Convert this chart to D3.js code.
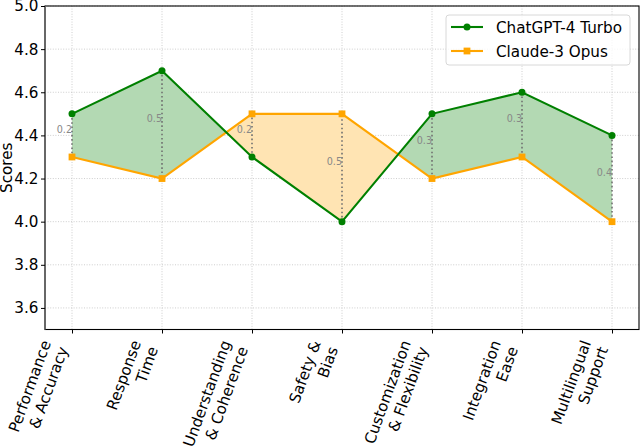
<!DOCTYPE html>
<html lang="en">
<head>
<meta charset="UTF-8"/>
<title>ChatGPT-4 Turbo vs Claude-3 Opus</title>
<script src="https://d3js.org/d3.v7.min.js"></script>
<style>
  body { margin: 0; background: #fff; }
  svg { display: block; font-family: "DejaVu Sans", sans-serif; }
</style>
</head>
<body>
<script>

var w = 640;
var h = 447;

// data
var categories = ["Performance\n& Accuracy", "Response\nTime", "Understanding\n& Coherence",
                  "Safety &\nBias", "Customization\n& Flexibility", "Integration\nEase",
                  "Multilingual\nSupport"];
var gptScores    = [4.5, 4.7, 4.3, 4.0, 4.5, 4.6, 4.4];
var claudeScores = [4.3, 4.2, 4.5, 4.5, 4.2, 4.3, 4.0];
var seriesNames  = ["ChatGPT-4 Turbo", "Claude-3 Opus"];
var yTicks       = [3.6, 3.8, 4.0, 4.2, 4.4, 4.6, 4.8, 5.0];

var fontSize = "15.2px";

// plot box (note: "top" is a reserved window property, so prefixed names)
var plotLeft = 45, plotRight = 639, plotTop = 6, plotBottom = 329.5;

var xScale = d3.scaleLinear()
               .domain([-0.3, categories.length - 1 + 0.3])
               .range([plotLeft, plotRight]);

var yScale = d3.scaleLinear()
               .domain([3.5, 5.0])
               .range([plotBottom, plotTop]);

var svg = d3.select("body")
            .append("svg")
            .attr("width", w)
            .attr("height", h);

// grid
var grid = svg.append("g");
grid.selectAll(".gy")
    .data(yTicks)
    .enter()
    .append("line")
    .attr("x1", plotLeft).attr("x2", plotRight)
    .attr("y1", function(d){ return yScale(d); })
    .attr("y2", function(d){ return yScale(d); })
    .attr("stroke", "#c8c8c8")
    .attr("stroke-width", 0.9)
    .attr("stroke-dasharray", "1,1.6");
grid.selectAll(".gx")
    .data(categories)
    .enter()
    .append("line")
    .attr("x1", function(d, i){ return xScale(i); })
    .attr("x2", function(d, i){ return xScale(i); })
    .attr("y1", plotTop).attr("y2", plotBottom)
    .attr("stroke", "#c8c8c8")
    .attr("stroke-width", 0.9)
    .attr("stroke-dasharray", "1,1.6");

// fill between: add crossing points so max() is piecewise linear
var pts = [];
for (var i = 0; i < categories.length; i++) {
    pts.push({x: i, g: gptScores[i], c: claudeScores[i]});
    if (i < categories.length - 1) {
        var d0 = gptScores[i] - claudeScores[i];
        var d1 = gptScores[i + 1] - claudeScores[i + 1];
        if (d0 * d1 < 0) {
            var t = d0 / (d0 - d1);
            var yc = gptScores[i] + t * (gptScores[i + 1] - gptScores[i]);
            pts.push({x: i + t, g: yc, c: yc});
        }
    }
}

var greenArea = d3.area()
    .x(function(d){ return xScale(d.x); })
    .y0(function(d){ return yScale(d.c); })
    .y1(function(d){ return yScale(Math.max(d.g, d.c)); });

var orangeArea = d3.area()
    .x(function(d){ return xScale(d.x); })
    .y0(function(d){ return yScale(d.g); })
    .y1(function(d){ return yScale(Math.max(d.g, d.c)); });

svg.append("path").datum(pts).attr("d", greenArea).attr("fill", "#b3d9b3");
svg.append("path").datum(pts).attr("d", orangeArea).attr("fill", "#ffe4b3");

// dotted difference lines and labels
var diffs = svg.append("g");
categories.forEach(function(c, i){
    var a = gptScores[i], b = claudeScores[i];
    diffs.append("line")
        .attr("x1", xScale(i)).attr("x2", xScale(i))
        .attr("y1", yScale(a)).attr("y2", yScale(b))
        .attr("stroke", "#707070")
        .attr("stroke-width", 1.6)
        .attr("stroke-dasharray", "1.6,2.6");
    diffs.append("text")
        .attr("x", xScale(i))
        .attr("y", yScale((a + b) / 2) - 2.5)
        .attr("text-anchor", "end")
        .attr("font-size", "9.6px")
        .attr("fill", "#888")
        .text(Math.abs(a - b).toFixed(1));
});

// lines
var line = d3.line()
    .x(function(d, i){ return xScale(i); })
    .y(function(d){ return yScale(d); });

svg.append("path").datum(claudeScores).attr("d", line)
   .attr("fill", "none").attr("stroke", "orange").attr("stroke-width", 2.1);
svg.append("path").datum(gptScores).attr("d", line)
   .attr("fill", "none").attr("stroke", "green").attr("stroke-width", 2.1);

// markers
svg.selectAll(".gm")
   .data(gptScores)
   .enter()
   .append("circle")
   .attr("cx", function(d, i){ return xScale(i); })
   .attr("cy", function(d){ return yScale(d); })
   .attr("r", 3.5)
   .attr("fill", "green");

svg.selectAll(".cm")
   .data(claudeScores)
   .enter()
   .append("rect")
   .attr("x", function(d, i){ return xScale(i) - 3.4; })
   .attr("y", function(d){ return yScale(d) - 3.4; })
   .attr("width", 6.8)
   .attr("height", 6.8)
   .attr("fill", "orange");

// spines
svg.append("rect")
   .attr("x", plotLeft).attr("y", plotTop)
   .attr("width", plotRight - plotLeft).attr("height", plotBottom - plotTop)
   .attr("fill", "none").attr("stroke", "black").attr("stroke-width", 1.1);
svg.append("line")
   .attr("x1", plotLeft).attr("x2", plotLeft).attr("y1", plotTop).attr("y2", plotBottom)
   .attr("stroke", "#666").attr("stroke-width", 1.8);

// y axis
var yAxis = d3.axisLeft(yScale)
              .tickValues(yTicks)
              .tickFormat(d3.format(".1f"))
              .tickSize(4)
              .tickPadding(2.5);
var yg = svg.append("g")
            .attr("transform", "translate(" + plotLeft + ",0)")
            .call(yAxis);
yg.select(".domain").remove();
yg.selectAll("text").attr("font-size", fontSize).attr("font-family", "DejaVu Sans").attr("fill", "#000");

// x axis (ticks only, labels placed below)
var xAxis = d3.axisBottom(xScale)
              .tickValues(d3.range(categories.length))
              .tickSize(4)
              .tickFormat("");
var xg = svg.append("g")
            .attr("transform", "translate(0," + plotBottom + ")")
            .call(xAxis);
xg.select(".domain").remove();

// rotated two-line tick labels, right/top aligned like matplotlib
var angle = -70;
var rad = angle * Math.PI / 180;
categories.forEach(function(label, i){
    var outer = svg.append("g")
        .attr("transform", "translate(" + xScale(i) + "," + (plotBottom + 8.5) + ")");
    var inner = outer.append("g");
    var txt = inner.append("text")
        .attr("text-anchor", "end")
        .attr("font-size", fontSize)
        .attr("fill", "#000");
    label.split("\n").forEach(function(part, k){
        txt.append("tspan")
           .attr("x", 0)
           .attr("dy", k === 0 ? 0 : "1.2em")
           .text(part);
    });
    var bb = txt.node().getBBox();
    var corners = [[bb.x, bb.y], [bb.x + bb.width, bb.y],
                   [bb.x, bb.y + bb.height], [bb.x + bb.width, bb.y + bb.height]];
    var maxX = -Infinity, minY = Infinity;
    corners.forEach(function(p){
        var rx = p[0] * Math.cos(rad) - p[1] * Math.sin(rad);
        var ry = p[0] * Math.sin(rad) + p[1] * Math.cos(rad);
        maxX = Math.max(maxX, rx);
        minY = Math.min(minY, ry);
    });
    inner.attr("transform", "translate(" + (-maxX) + "," + (-minY) + ") rotate(" + angle + ")");
});

// y label
svg.append("text")
   .attr("transform", "rotate(-90)")
   .attr("x", -(plotTop + plotBottom) / 2)
   .attr("y", 12)
   .attr("text-anchor", "middle")
   .attr("font-size", fontSize)
   .text("Scores");

// legend
var legend = svg.append("g");
legend.append("rect")
      .attr("x", 446).attr("y", 15)
      .attr("width", 184).attr("height", 50)
      .attr("rx", 3)
      .attr("fill", "white").attr("fill-opacity", 0.8)
      .attr("stroke", "#d8d8d8");

var legendRows = [
    {name: seriesNames[0], color: "green", shape: "circle"},
    {name: seriesNames[1], color: "orange", shape: "square"}
];
legendRows.forEach(function(r, k){
    var y = 27 + k * 24;
    legend.append("line")
          .attr("x1", 451).attr("x2", 483)
          .attr("y1", y).attr("y2", y)
          .attr("stroke", r.color).attr("stroke-width", 2.1);
    if (r.shape === "circle") {
        legend.append("circle").attr("cx", 467).attr("cy", y).attr("r", 3.5).attr("fill", r.color);
    } else {
        legend.append("rect").attr("x", 467 - 3.4).attr("y", y - 3.4)
              .attr("width", 6.8).attr("height", 6.8).attr("fill", r.color);
    }
    legend.append("text")
          .attr("x", 496).attr("y", y + 5.5)
          .attr("font-size", fontSize)
          .text(r.name);
});

</script>
</body>
</html>
